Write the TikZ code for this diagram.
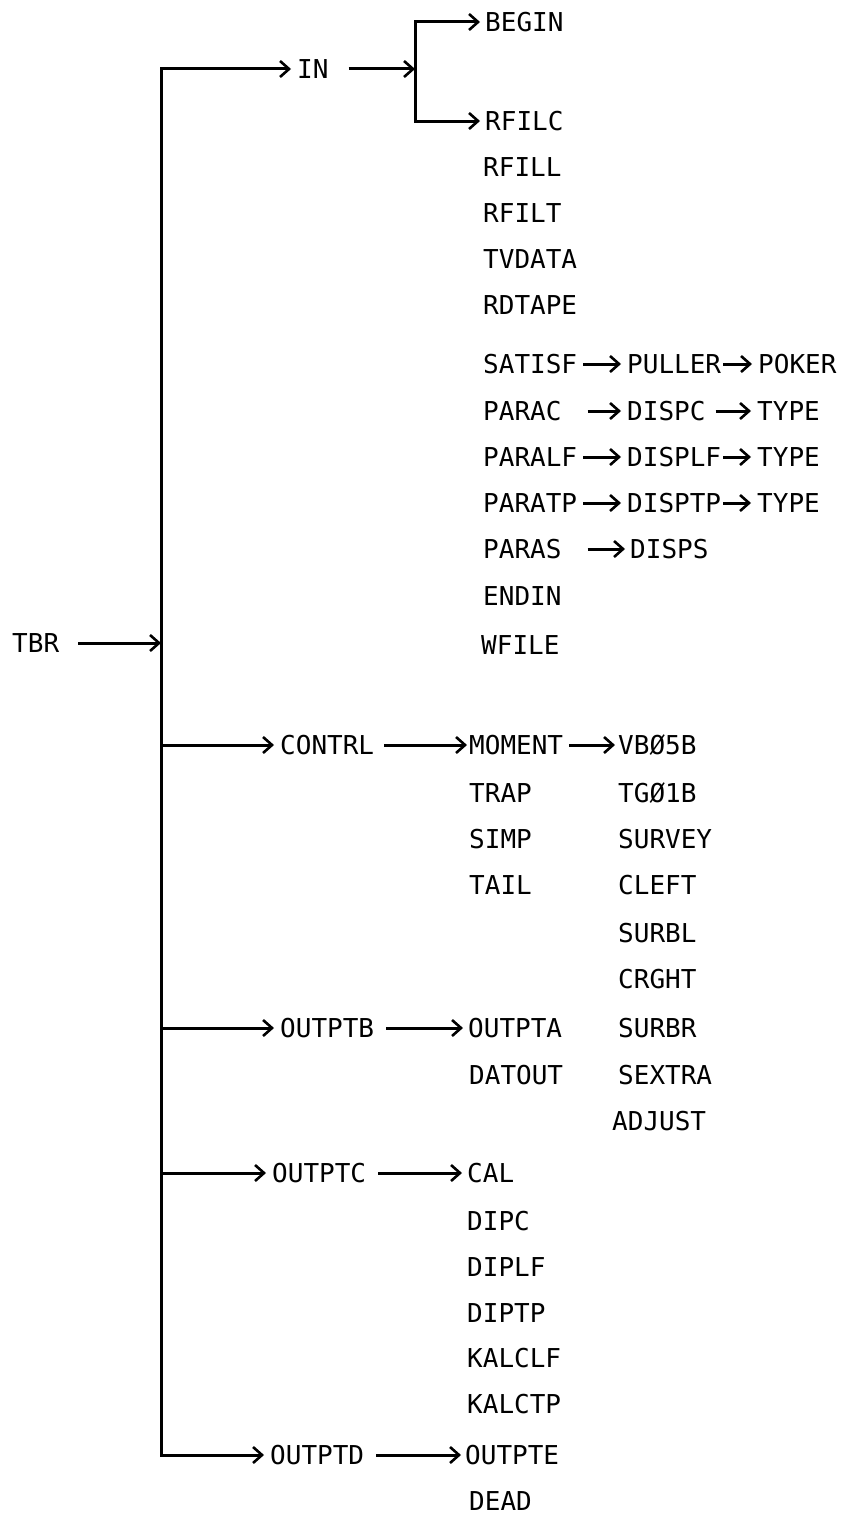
\documentclass[tikz,border=0pt]{standalone}
\usepackage{fontspec}
\setmainfont{DejaVu Sans Mono}
\usetikzlibrary{arrows.meta}
\tikzset{
  lbl/.style={anchor=west, inner sep=0pt, text height=19pt, text depth=0pt, font=\fontsize{26}{26}\selectfont},
  arr/.style={line width=3pt, -{Straight Barb[length=9pt,width=16pt,line width=2.6pt]}},
  bus/.style={line width=3pt},
}
\begin{document}
\begin{tikzpicture}[x=1pt,y=-1pt]
\useasboundingbox (0,0) rectangle (851,1520);
% main level
\node[lbl] (tbr) at (12,643) {TBR};
\coordinate (tb) at (161,643);
\node[lbl] (in) at (297,69) {IN};
\node[lbl] (contrl) at (280,745) {CONTRL};
\node[lbl] (outptb) at (280,1028) {OUTPTB};
\node[lbl] (outptc) at (272,1173) {OUTPTC};
\node[lbl] (outptd) at (270,1455) {OUTPTD};
% IN branch
\coordinate (ib) at (415,69);
\node[lbl] (begin) at (485,22) {BEGIN};
\node[lbl] (rfilc) at (485,121) {RFILC};
\node[lbl] (rfill) at (483,167) {RFILL};
\node[lbl] (rfilt) at (483,213) {RFILT};
\node[lbl] (tvdata) at (483,259) {TVDATA};
\node[lbl] (rdtape) at (483,305) {RDTAPE};
\node[lbl] (satisf) at (483,364) {SATISF};
\node[lbl] (parac) at (483,411) {PARAC};
\node[lbl] (paralf) at (483,457) {PARALF};
\node[lbl] (paratp) at (483,503) {PARATP};
\node[lbl] (paras) at (483,549) {PARAS};
\node[lbl] (endin) at (483,596) {ENDIN};
\node[lbl] (wfile) at (481,645) {WFILE};
\node[lbl] (puller) at (627,364) {PULLER};
\node[lbl] (poker) at (758,364) {POKER};
\node[lbl] (dispc) at (627,411) {DISPC};
\node[lbl] (type1) at (757,411) {TYPE};
\node[lbl] (displf) at (627,457) {DISPLF};
\node[lbl] (type2) at (757,457) {TYPE};
\node[lbl] (disptp) at (627,503) {DISPTP};
\node[lbl] (type3) at (757,503) {TYPE};
\node[lbl] (disps) at (630,549) {DISPS};
% CONTRL branch
\node[lbl] (moment) at (469,745) {MOMENT};
\node[lbl] (trap) at (469,793) {TRAP};
\node[lbl] (simp) at (469,839) {SIMP};
\node[lbl] (tail) at (469,885) {TAIL};
\node[lbl] (vb05b) at (618,745) {VBØ5B};
\node[lbl] (tg01b) at (618,793) {TGØ1B};
\node[lbl] (survey) at (618,839) {SURVEY};
\node[lbl] (cleft) at (618,885) {CLEFT};
\node[lbl] (surbl) at (618,933) {SURBL};
\node[lbl] (crght) at (618,979) {CRGHT};
\node[lbl] (surbr) at (618,1028) {SURBR};
\node[lbl] (sextra) at (618,1075) {SEXTRA};
\node[lbl] (adjust) at (612,1121) {ADJUST};
% OUTPTB branch
\node[lbl] (outpta) at (468,1028) {OUTPTA};
\node[lbl] (datout) at (469,1075) {DATOUT};
% OUTPTC branch
\node[lbl] (cal) at (467,1173) {CAL};
\node[lbl] (dipc) at (467,1221) {DIPC};
\node[lbl] (diplf) at (467,1267) {DIPLF};
\node[lbl] (diptp) at (467,1313) {DIPTP};
\node[lbl] (kalclf) at (467,1358) {KALCLF};
\node[lbl] (kalctp) at (467,1404) {KALCTP};
% OUTPTD branch
\node[lbl] (outpte) at (465,1455) {OUTPTE};
\node[lbl] (dead) at (469,1501) {DEAD};

% connectors: main bus
\draw[arr] ([xshift=19pt]tbr.east) -- (tb);
\draw[arr, bus] (tb) |- ([xshift=-6pt]in.west);
\draw[arr, bus] (tb) |- ([xshift=-6pt]outptd.west);
\draw[arr] (tb |- contrl) -- ([xshift=-6pt]contrl.west);
\draw[arr] (tb |- outptb) -- ([xshift=-6pt]outptb.west);
\draw[arr] (tb |- outptc) -- ([xshift=-6pt]outptc.west);
% IN
\draw[arr] ([xshift=20pt]in.east) -- (ib);
\draw[arr, bus] (ib) |- ([xshift=-5pt]begin.west);
\draw[arr, bus] (ib) |- ([xshift=-5pt]rfilc.west);
\draw[arr] ([xshift=6pt]satisf.east) -- ([xshift=-6pt]puller.west);
\draw[arr] ([xshift=2pt]puller.east) -- ([xshift=-6pt]poker.west);
\draw[arr] ([xshift=26pt]parac.east) -- ([xshift=-6pt]dispc.west);
\draw[arr] ([xshift=10pt]dispc.east) -- ([xshift=-6pt]type1.west);
\draw[arr] ([xshift=6pt]paralf.east) -- ([xshift=-6pt]displf.west);
\draw[arr] ([xshift=2pt]displf.east) -- ([xshift=-6pt]type2.west);
\draw[arr] ([xshift=6pt]paratp.east) -- ([xshift=-6pt]disptp.west);
\draw[arr] ([xshift=2pt]disptp.east) -- ([xshift=-6pt]type3.west);
\draw[arr] ([xshift=26pt]paras.east) -- ([xshift=-5pt]disps.west);
% second level
\draw[arr] ([xshift=10pt]contrl.east) -- ([xshift=-2pt]moment.west);
\draw[arr] ([xshift=6pt]moment.east) -- ([xshift=-3pt]vb05b.west);
\draw[arr] ([xshift=12pt]outptb.east) -- ([xshift=-5pt]outpta.west);
\draw[arr] ([xshift=12pt]outptc.east) -- ([xshift=-5pt]cal.west);
\draw[arr] ([xshift=12pt]outptd.east) -- ([xshift=-4pt]outpte.west);
\end{tikzpicture}
\end{document}
